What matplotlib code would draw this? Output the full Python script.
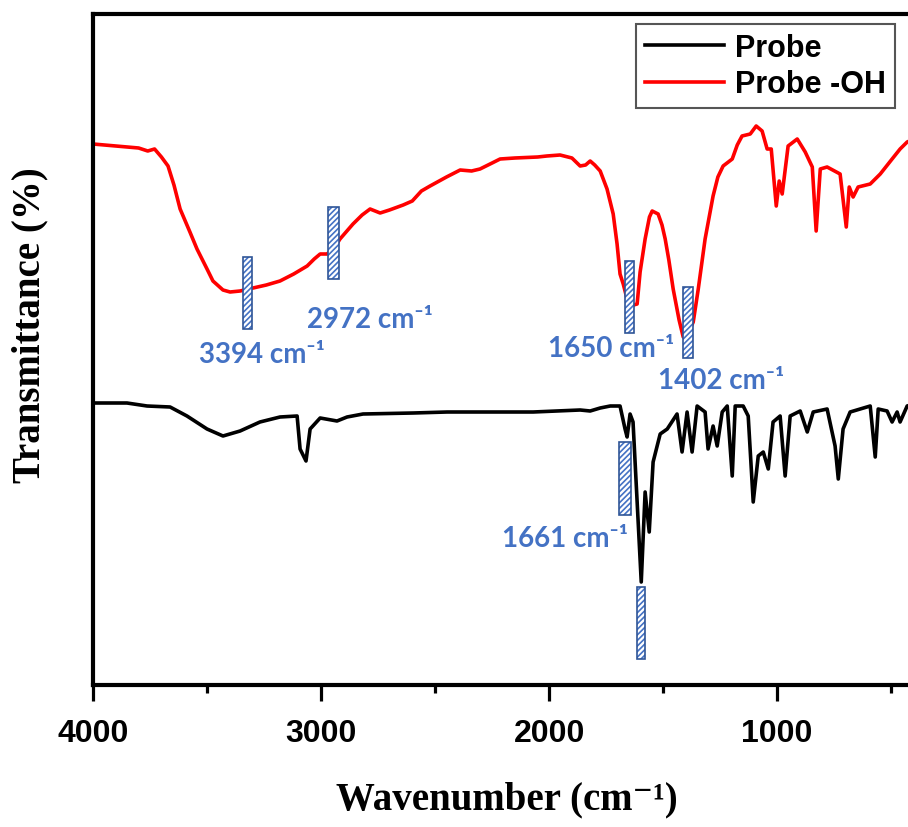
import matplotlib
matplotlib.use("Agg")
import matplotlib.pyplot as plt
from matplotlib.patches import Rectangle

plt.rcParams['hatch.linewidth'] = 1.2

# ---- data (wavenumber, relative transmittance, arbitrary units) ----
red_wn = [4000, 3900, 3800, 3760, 3730, 3700, 3671, 3645, 3618, 3575, 3544, 3500,
          3474, 3430, 3399, 3355, 3298, 3240, 3180, 3120, 3061, 3030, 3004, 2974,
          2945, 2917, 2860, 2820, 2785, 2741, 2700, 2640, 2600, 2560, 2522, 2450,
          2390, 2340, 2303, 2250, 2215, 2150, 2050, 2010, 1952, 1900, 1864, 1840,
          1820, 1800, 1776, 1746, 1719, 1702, 1689, 1675, 1658, 1645, 1630, 1614,
          1601, 1579, 1560, 1548, 1522, 1505, 1491, 1475, 1456, 1430, 1412, 1390,
          1368, 1346, 1316, 1281, 1260, 1237, 1197, 1175, 1154, 1118, 1092, 1066,
          1044, 1026, 1004, 991, 978, 952, 912, 877, 846, 829, 811, 781, 724,
          697, 684, 667, 645, 592, 548, 496, 461, 430, 400]
red_t = [541, 539, 537, 534, 536, 528, 519, 500, 476, 453, 436, 416,
         404, 395, 393, 394, 397, 400, 404, 411, 419, 426, 431, 431,
         436, 446, 461, 470, 476, 472, 475, 480, 484, 494, 499, 508,
         515, 514, 516, 522, 526, 527, 528, 529, 530, 527, 519, 520,
         524, 520, 514, 496, 471, 441, 411, 401, 386, 379, 380, 381,
         413, 446, 468, 474, 471, 460, 446, 425, 396, 365, 348, 352,
         363, 396, 446, 489, 508, 519, 526, 540, 549, 551, 559, 554,
         536, 536, 479, 504, 491, 539, 546, 533, 518, 454, 516, 518, 511,
         458, 498, 488, 498, 501, 511, 526, 536, 543, 546]

black_wn = [4000, 3851, 3763, 3662, 3588, 3500, 3430, 3355, 3268, 3180, 3105, 3092,
            3066, 3048, 3004, 2930, 2886, 2816, 2596, 2447, 2070, 1864, 1820, 1776,
            1732, 1689, 1667, 1658, 1645, 1632, 1596, 1579, 1561, 1544, 1513, 1482,
            1439, 1417, 1395, 1373, 1351, 1316, 1303, 1281, 1263, 1241, 1219, 1197,
            1184, 1149, 1127, 1105, 1083, 1061, 1039, 1018, 987, 965, 943, 899, 868,
            842, 781, 746, 732, 711, 680, 592, 570, 557, 518, 496, 474, 461, 430, 400]
black_t = [282, 282, 279, 278, 269, 256, 249, 254, 263, 268, 269, 236,
           224, 256, 267, 264, 268, 271, 272, 273, 273, 275, 274, 277,
           279, 279, 256, 248, 271, 263, 103, 193, 153, 223, 251, 256,
           271, 233, 273, 233, 279, 273, 236, 259, 239, 273, 279, 209,
           279, 279, 269, 183, 229, 233, 216, 263, 269, 209, 269, 274, 253,
           273, 276, 239, 206, 256, 273, 279, 228, 276, 274, 263, 273, 263, 279, 281]

# peak markers: (left wn, right wn, bottom, top)
mark_left = [3342, 2969, 1667, 1412, 1693, 1614]
mark_right = [3303, 2921, 1627, 1368, 1640, 1579]
mark_bottom = [356, 406, 352, 327, 170, 26]
mark_top = [428, 478, 424, 398, 243, 98]

labels = ["3394", "2972", "1650", "1402", "1661"]
label_wn = [3259, 2785, 1728, 1246, 1930]
label_t = [331, 366, 337, 305, 147]

x_ticks = [4000, 3000, 2000, 1000]

# ---- figure ----
fig = plt.figure(figsize=(9.08, 8.28), dpi=100)
ax = fig.add_axes([93 / 908, 1 - 686 / 828, (914 - 93) / 908, (686 - 15) / 828])

ax.plot(black_wn, black_t, color='black', lw=2.6, label='Probe', zorder=2)
ax.plot(red_wn, red_t, color='#FF0000', lw=2.6, label='Probe -OH', zorder=2)

for l, r, b, t in zip(mark_left, mark_right, mark_bottom, mark_top):
    ax.add_patch(Rectangle((r, b), l - r, t - b, facecolor='white',
                           edgecolor='#4472C4', hatch='//////', lw=0, zorder=3))
    ax.add_patch(Rectangle((r, b), l - r, t - b, facecolor='none',
                           edgecolor='#2F5597', lw=1.2, zorder=4))

for lab, xw, yt in zip(labels, label_wn, label_t):
    ax.text(xw, yt, lab + ' cm\u207b\u00b9', color='#4472C4', fontsize=20,
            family=['Lato', 'DejaVu Sans'], fontweight='bold', ha='center',
            va='center', zorder=5)

ax.set_xlim(4000, 400)
ax.set_ylim(0, 671)
ax.set_xticks(x_ticks)
ax.set_xticks([3500, 2500, 1500, 500], minor=True)
ax.set_xticklabels([str(v) for v in x_ticks], fontsize=23, fontweight='bold',
                   family='Liberation Sans')
ax.set_yticks([])
ax.tick_params(axis='x', which='major', direction='out', length=11.5, width=2.3, pad=12)
ax.tick_params(axis='x', which='minor', direction='out', length=6, width=2.3)
for s in ax.spines.values():
    s.set_linewidth(3)

leg = ax.legend(loc='upper right', bbox_to_anchor=(895 / 908, 1 - 25 / 828),
                bbox_transform=fig.transFigure, borderaxespad=0,
                prop={'family': 'Liberation Sans', 'weight': 'bold', 'size': 22},
                handlelength=2.6, handletextpad=0.35, fancybox=False,
                borderpad=0.3, labelspacing=0.2, framealpha=1)
leg.get_frame().set_edgecolor('#555555')
leg.get_frame().set_linewidth(1.5)
for h in leg.get_lines():
    h.set_linewidth(2.6)

fig.text(507 / 908, 1 - 800 / 828, 'Wavenumber (cm\u207b\u00b9)', fontsize=28,
         family=['Liberation Serif', 'DejaVu Serif'], fontweight='bold',
         ha='center', va='center')
fig.text(30 / 908, 1 - 325 / 828, 'Transmittance (%)', fontsize=28, rotation=90,
         family='Liberation Serif', fontweight='bold', ha='center', va='center')

fig.savefig('out.png', dpi=100)
